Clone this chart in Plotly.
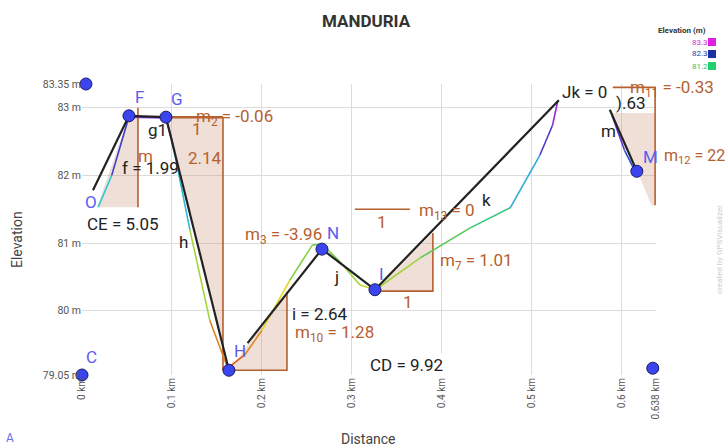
import plotly.graph_objects as go

# ---------------- data ----------------
x_ticks = [0, 0.1, 0.2, 0.3, 0.4, 0.5, 0.6, 0.638]
x_ticktext = ["0 km", "0.1 km", "0.2 km", "0.3 km", "0.4 km", "0.5 km", "0.6 km", "0.638 km"]
y_ticks = [79.05, 80, 81, 82, 83, 83.35]
y_ticktext = ["79.05 m", "80 m", "81 m", "82 m", "83 m", "83.35 m"]

# colored elevation profile (GPS track)
prof_d = [0.018, 0.033, 0.052, 0.093, 0.100, 0.120, 0.142, 0.162, 0.181, 0.200, 0.231,
          0.256, 0.267, 0.287, 0.309, 0.326, 0.376, 0.431, 0.476, 0.509, 0.523, 0.529]
prof_e = [81.53, 82.00, 82.86, 82.85, 82.52, 81.19, 79.86, 79.15, 79.35, 79.71, 80.45,
          80.97, 80.98, 80.72, 80.38, 80.31, 80.78, 81.22, 81.52, 82.30, 82.74, 83.11]
prof2_d = [0.589, 0.603, 0.614]
prof2_e = [82.89, 82.37, 82.08]

# black segment lines
seg_f_d = [0.0122, 0.0522]; seg_f_e = [81.78, 82.88]
seg_g_d = [0.0522, 0.0933]; seg_g_e = [82.88, 82.86]
seg_h_d = [0.0933, 0.1633]; seg_h_e = [82.86, 79.12]
seg_i_d = [0.184, 0.2667]; seg_i_e = [79.52, 80.91]
seg_j_d = [0.2667, 0.3256]; seg_j_e = [80.91, 80.31]
seg_k_d = [0.3256, 0.530]; seg_k_e = [80.31, 83.11]
seg_m_d = [0.5867, 0.6167]; seg_m_e = [82.97, 82.06]

# points
pt_names = ["E", "F", "G", "H", "N", "I", "M", "C", "D", "P"]
pt_d = [0.0044, 0.0522, 0.0933, 0.1633, 0.2667, 0.3256, 0.6167, 0.0, 0.6344, -0.0044]
pt_e = [83.35, 82.88, 82.86, 79.12, 80.91, 80.31, 82.06, 79.05, 79.15, 81.34]

# slope triangles
tri1_d = [0.0167, 0.0622, 0.0622, 0.0522]; tri1_e = [81.53, 81.53, 82.85, 82.88]
tri2_d = [0.0933, 0.1567, 0.1567]; tri2_e = [82.86, 82.86, 79.48]
tri3_d = [0.1633, 0.2278, 0.2278]; tri3_e = [79.12, 79.12, 80.28]
tri4_d = [0.3256, 0.390, 0.390]; tri4_e = [80.29, 80.29, 81.15]
tri5_d = [0.590, 0.637, 0.637, 0.633]; tri5_e = [82.92, 82.92, 81.56, 81.56]

# ---------------- figure ----------------
BROWN = "#b5602f"
FILL = "rgba(205,150,120,0.30)"
FONT = "Roboto, Arial"
fig = go.Figure()

def tri(d, e):
    fig.add_trace(go.Scatter(x=d + [d[0]], y=e + [e[0]], mode="lines", fill="toself",
                             fillcolor=FILL, line=dict(width=0), hoverinfo="skip"))

for d, e in [(tri1_d, tri1_e), (tri2_d, tri2_e), (tri3_d, tri3_e), (tri4_d, tri4_e), (tri5_d, tri5_e)]:
    tri(d, e)

def bline(d, e, w=1.6):
    fig.add_trace(go.Scatter(x=d, y=e, mode="lines", line=dict(color=BROWN, width=w), hoverinfo="skip"))

# brown slope-triangle edges
bline([0.0622, 0.0622], [83.0, 81.53])
bline([0.0933, 0.1567], [82.86, 82.86], 2.5)
bline([0.1567, 0.1567], [82.86, 79.12])
bline([0.1633, 0.2278, 0.2278], [79.12, 79.12, 80.28])
bline([0.3256, 0.390, 0.390], [80.29, 80.29, 81.15])
bline([0.3033, 0.3644], [81.50, 81.50])
bline([0.590, 0.637, 0.637], [83.30, 83.30, 81.56])

# colored elevation profile
stops = [(79.05, (220, 60, 30)), (80.1, (230, 220, 40)), (81.2, (60, 200, 90)),
         (81.8, (50, 200, 220)), (82.3, (40, 60, 200)), (83.3, (220, 40, 220))]

def col(v):
    for (a, ca), (b, cb) in zip(stops[:-1], stops[1:]):
        if v <= b:
            t = max(0.0, min(1.0, (v - a) / (b - a)))
            c = [int(ca[i] + (cb[i] - ca[i]) * t) for i in range(3)]
            return "rgb(%d,%d,%d)" % tuple(c)
    return "rgb(%d,%d,%d)" % stops[-1][1]

for dd, ee in [(prof_d, prof_e), (prof2_d, prof2_e)]:
    for i in range(len(dd) - 1):
        fig.add_trace(go.Scatter(x=dd[i:i + 2], y=ee[i:i + 2], mode="lines",
                                 line=dict(color=col((ee[i] + ee[i + 1]) / 2), width=1.6),
                                 hoverinfo="skip"))

# black lines
for d, e in [(seg_f_d, seg_f_e), (seg_g_d, seg_g_e), (seg_h_d, seg_h_e), (seg_i_d, seg_i_e),
             (seg_j_d, seg_j_e), (seg_k_d, seg_k_e), (seg_m_d, seg_m_e)]:
    fig.add_trace(go.Scatter(x=d, y=e, mode="lines", line=dict(color="#222222", width=2.2),
                             hoverinfo="skip"))

fig.add_trace(go.Scatter(x=pt_d, y=pt_e, mode="markers", cliponaxis=False,
                         marker=dict(size=12, color="#3a45ee", line=dict(color="#1a1a66", width=1)),
                         hoverinfo="skip"))

ann = []
def lab(x, y, text, color="#222", size=17, bg=None, xanchor="center"):
    a = dict(x=x, y=y, xref="x", yref="y", text=text, showarrow=False,
             font=dict(family=FONT, size=size, color=color), xanchor=xanchor, yanchor="middle")
    if bg:
        a["bgcolor"] = bg
        a["borderpad"] = 1
    ann.append(a)

PBLUE = "#5b5cf0"
for t, x, y in [("E", 0.0167, 83.62), ("F", 0.0644, 83.16), ("G", 0.1056, 83.13), ("O", 0.010, 81.61),
                ("H", 0.1756, 79.40), ("N", 0.2789, 81.15), ("I", 0.3333, 80.54), ("K", 0.5867, 83.59),
                ("M", 0.6322, 82.27), ("C", 0.0111, 79.32), ("D", 0.6456, 79.42)]:
    lab(x, y, t, PBLUE, 17)

for t, x, y in [("f = 1.99", 0.0756, 82.11), ("g1", 0.0844, 82.67), ("h", 0.1133, 81.02),
                ("i = 2.64", 0.2644, 79.95), ("j", 0.2833, 80.50), ("k", 0.450, 81.64),
                ("m", 0.5856, 82.66), ("Jk = 0", 0.559, 83.23), (").63", 0.610, 83.07)]:
    lab(x, y, t, "#222", 17)

lab(0.0456, 81.28, "CE = 5.05", "#222", 17, bg="white")
lab(0.3611, 79.20, "CD = 9.92", "#222", 17, bg="white")
lab(0.6456, 81.34, "KD = 4.97", "#222", 17, bg="white")

for t, x, y in [("m<sub>2</sub> = -0.06", 0.1700, 82.86), ("1", 0.1278, 82.69),
                ("m", 0.0711, 82.28), ("2.14", 0.1367, 82.26),
                ("m<sub>3</sub> = -3.96", 0.2244, 81.11), ("m<sub>10</sub> = 1.28", 0.2811, 79.67),
                ("1", 0.200, 78.94), ("m<sub>7</sub> = 1.01", 0.4389, 80.72), ("1", 0.3622, 80.13),
                ("1", 0.3333, 81.31), ("m<sub>13</sub> = 0", 0.4056, 81.47)]:
    lab(x, y, t, BROWN, 17)
lab(0.6067, 83.29, "m<sub>11</sub> = -0.33", BROWN, 17, xanchor="left")


def P(px):
    return (px - 82) / 574.0

def Q(py):
    return (375 - py) / 291.0

def pl(px, py, text, color, size, bold=False, angle=0, xanchor="center"):
    ann.append(dict(x=P(px), y=Q(py), xref="paper", yref="paper", text=("<b>%s</b>" % text) if bold else text,
                    showarrow=False, textangle=angle, xanchor=xanchor, yanchor="middle",
                    font=dict(family=FONT, size=size, color=color)))

pl(662, 156, "m<sub>12</sub> = 22", BROWN, 16, xanchor="left")
pl(366, 21, "MANDURIA", "#333", 17, bold=True)
pl(368, 439, "Distance", "#444", 14)
pl(17, 240, "Elevation", "#444", 14, angle=-90)
pl(682, 30, "Elevation (m)", "#333", 8, bold=True)
pl(700, 42, "83.3", "#d030d0", 8)
pl(700, 54, "82.3", "#1e3aa8", 8)
pl(700, 66, "81.2", "#30c070", 8)
pl(10, 438, "A", "#6a6af0", 12)
pl(719, 250, "created by GPSVisualizer", "#cccccc", 8, angle=-90)

shapes = []
for py, c in [(42, "#e020e0"), (54, "#1a2fa0"), (66, "#20d070")]:
    shapes.append(dict(type="rect", xref="paper", yref="paper", x0=P(708), x1=P(716),
                       y0=Q(py + 4), y1=Q(py - 4), fillcolor=c, line=dict(width=0)))

fig.update_layout(
    width=727, height=448, autosize=False, showlegend=False,
    margin=dict(l=82, r=71, t=84, b=73),
    paper_bgcolor="white", plot_bgcolor="white",
    annotations=ann, shapes=shapes,
    xaxis=dict(range=[0, 0.638], tickvals=x_ticks, ticktext=x_ticktext, tickangle=-90,
               automargin=False,
               showgrid=True, gridcolor="#dcdcdc", zeroline=False, showline=False,
               tickfont=dict(family=FONT, size=10, color="#555"), ticks=""),
    yaxis=dict(range=[79.05, 83.35], tickvals=y_ticks, ticktext=y_ticktext,
               automargin=False,
               showgrid=True, gridcolor="#dcdcdc", zeroline=False, showline=False,
               tickfont=dict(family=FONT, size=10.5, color="#555"), ticks=""),
)

fig.write_html("out.html", config={"displayModeBar": False},
               post_script="document.body.style.margin='0';document.body.style.overflow='hidden';")
